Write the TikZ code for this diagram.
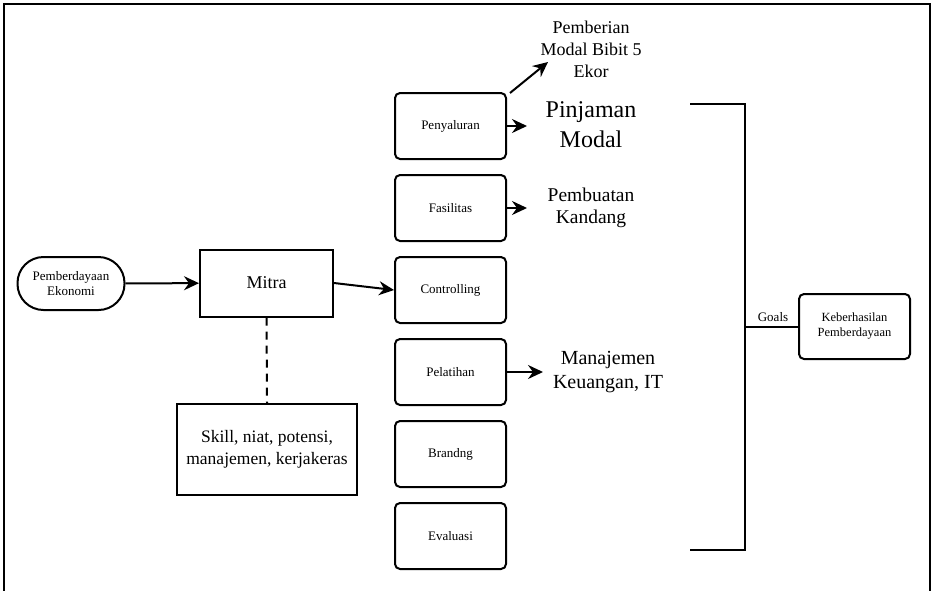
\documentclass[tikz,border=0pt]{standalone}
\usepackage{fontspec}
\setmainfont{Liberation Serif}
\usetikzlibrary{arrows.meta}
\newcommand\myfs[2]{\fontsize{#1}{#2}\selectfont}
\begin{document}
\begin{tikzpicture}[x=1pt,y=-1pt,
  stepbox/.style={draw,line width=2pt,rounded corners=5pt,minimum width=111pt,minimum height=66pt,align=center,font=\myfs{13}{15}},
  plainbox/.style={draw,line width=2pt,align=center},
  bigtxt/.style={align=center,inner sep=0pt},
  conn/.style={line width=2pt,-{Stealth[length=15pt,width=14pt,inset=5pt]}},
  line/.style={line width=2pt}]
\useasboundingbox (0,0) rectangle (933,590);
\draw[line width=1.5pt] (4,592) -- (4,4) -- (930,4) -- (930,592);

\node[draw,line width=2pt,rounded corners=26pt,minimum width=107pt,minimum height=53pt,align=center,font=\myfs{13}{15}] (pe) at (71,283.5) {Pemberdayaan\\Ekonomi};
\node[plainbox,minimum width=133pt,minimum height=67pt,font=\myfs{18}{20}] (mitra) at (266.5,283) {Mitra};
\node[plainbox,minimum width=180pt,minimum height=91pt,font=\myfs{17.5}{22}] (skill) at (267,449.5) {Skill, niat, potensi,\\manajemen, kerjakeras};

\node[stepbox] (pen) at (450.5,126) {Penyaluran};
\node[stepbox] (fas) at (450.5,208) {Fasilitas};
\node[stepbox] (ctrl) at (450.5,290) {Controlling};
\node[stepbox] (pel) at (450.5,372) {Pelatihan};
\node[stepbox] (bra) at (450.5,454) {Brandng};
\node[stepbox] (eva) at (450.5,536) {Evaluasi};

\node[draw,line width=2pt,rounded corners=5pt,minimum width=111pt,minimum height=65pt,align=center,font=\myfs{12.5}{15}] (kb) at (854.5,326.5) {Keberhasilan\\Pemberdayaan};

\node[bigtxt,font=\myfs{18}{22}] (pemb) at (591,49) {Pemberian\\Modal Bibit 5\\Ekor};
\node[bigtxt,font=\myfs{24}{30}] (pinj) at (591,125) {Pinjaman\\Modal};
\node[bigtxt,font=\myfs{19.5}{22}] (kand) at (591,207.5) {Pembuatan\\Kandang};
\node[bigtxt,font=\myfs{20}{24}] (manj) at (608,372.5) {Manajemen\\Keuangan, IT};

\coordinate (d0) at (510,93);
\coordinate (d1) at (548,62);
\coordinate (a1) at (527,126);
\coordinate (a2) at (527,208);
\coordinate (a3) at (543,372);

\draw[conn] (pe) -- (mitra);
\draw[conn] (mitra.east) -- (ctrl.west);
\draw[conn] (pen.east) -- (a1);
\draw[conn] (fas.east) -- (a2);
\draw[conn] (pel.east) -- (a3);
\draw[conn] (d0) -- (d1);
\draw[line width=2pt,dash pattern=on 8pt off 6pt] (mitra.south) -- (skill.north);

\coordinate (b1) at (690,104);
\coordinate (b2) at (745,104);
\coordinate (b3) at (745,550);
\coordinate (b4) at (690,550);
\coordinate (bm) at (745,326.5);
\draw[line] (b1) -- (b2) -- (b3) -- (b4);
\draw[line] (bm) -- (kb.west);
\node[font=\myfs{13}{15},inner sep=0pt] (goals) at (773,317) {Goals};
\end{tikzpicture}
\end{document}
